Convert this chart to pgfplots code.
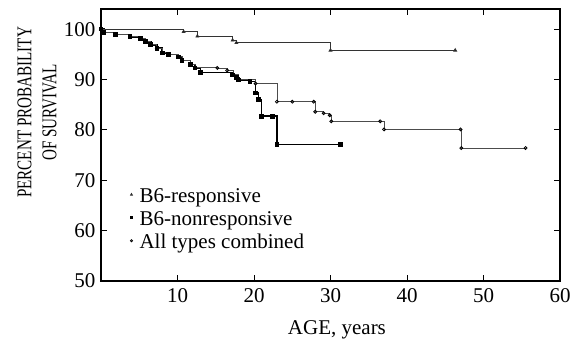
\documentclass[border=0pt]{standalone}
\usepackage{fontspec}
\setmainfont{Liberation Serif}
\usepackage{pgfplots}
\pgfplotsset{compat=1.18}
\pgfplotsset{markonly legend/.style={legend image code/.code={\draw[##1, mark size=1.1pt] plot[only marks] coordinates {(0.15cm,0.05cm)};}}}
\begin{document}
\begin{tikzpicture}[font=\fontsize{21}{25}\selectfont]
\begin{axis}[
  scale only axis, width=459pt, height=272pt,
  xmin=0, xmax=60, ymin=50, ymax=104,
  xtick={10,20,...,60}, ytick={50,60,...,100},
  tick align=inside, major tick length=6pt,
  axis line style={line width=1.5pt},
  tick style={line width=0.9pt, black},
  /pgf/number format/assume math mode=true,
  xticklabel style={yshift=-4pt},
  yticklabel style={xshift=-2pt},
  xlabel={AGE, years},
  xlabel style={at={(axis description cs:0.514,-0.18)}, anchor=center},
  ylabel={\scalebox{0.72}[1]{PERCENT PROBABILITY}\\\scalebox{0.72}[1]{OF SURVIVAL}},
  ylabel style={at={(axis description cs:-0.139,0.62)}, anchor=center, rotate=0, align=center},
  legend style={draw=none, fill=none, at={(axis description cs:0.057,0.356)}, anchor=north west,
    row sep=3.5pt, column sep=5pt, font=\fontsize{21}{25}\selectfont},
  legend cell align=left,
  clip=false,
]
\coordinate (ll) at (rel axis cs:0,0);
\coordinate (ur) at (rel axis cs:1,1);
% B6-responsive
\addplot[const plot, black!80, line width=0.8pt, mark=triangle*, mark size=1.6pt,
  mark options={solid, fill=black}, markonly legend]
coordinates {
(0,100) (10.8,99.5) (12.6,98.6) (17.2,97.8) (17.7,97.3) (30.0,95.8) (46.3,95.8)
};
\addlegendentry{B6-responsive}
% B6-nonresponsive
\addplot[const plot, black, line width=1.6pt, mark=square*, mark size=1.5pt, markonly legend]
coordinates {
(0,100) (0.4,99.3) (1.9,98.9) (3.8,98.5) (5.2,98.1) (5.8,97.5) (6.5,96.9)
(7.3,96.2) (8.0,95.3) (8.8,95.0) (10.1,94.5) (10.6,93.8) (11.7,93.0)
(12.3,92.3) (13.0,91.4) (17.2,90.9) (17.7,90.4) (18.0,89.9) (19.5,89.6)
(20.2,87.3) (20.6,86.0) (21.0,82.7) (22.4,82.7) (23.0,77.1) (31.3,77.1)
};
\addlegendentry{B6-nonresponsive}
% All types combined
\addplot[const plot, black!70, line width=0.8pt, mark=o, mark size=1.5pt,
  mark options={fill=white, black}, markonly legend]
coordinates {
(0,100) (0.4,99.3) (1.9,98.9) (3.8,98.5) (5.2,98.1) (5.8,97.5) (6.5,96.9)
(7.3,96.2) (8.0,95.3) (8.8,95.0) (10.1,94.5) (10.6,93.8) (11.7,93.0)
(12.3,92.5) (15.2,92.3) (16.5,91.8) (17.3,91.0) (18.0,90.0) (20.2,89.2)
(23.0,85.6) (25.0,85.6) (27.8,85.6) (28.0,83.6) (29.1,83.3) (29.9,82.9)
(30.1,81.7) (36.5,81.7) (37.0,80.1) (47.0,80.1) (47.1,76.4) (55.5,76.4)
};
\addlegendentry{All types combined}
\end{axis}
\pgfresetboundingbox
\path[use as bounding box] ([shift={(-101pt,-64pt)}]ll) rectangle ([shift={(12pt,9pt)}]ur);
\end{tikzpicture}
\end{document}
